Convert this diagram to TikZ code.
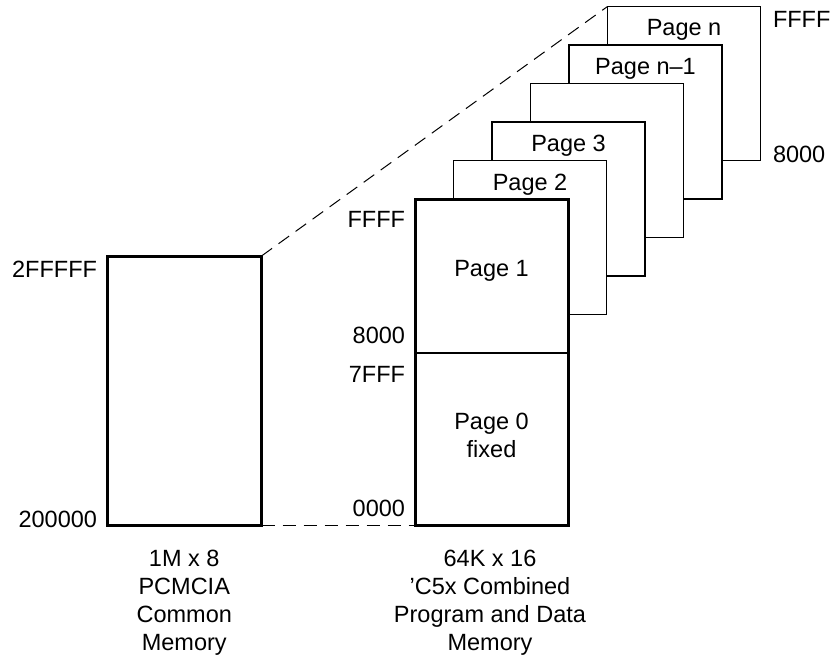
\documentclass[tikz,border=0pt]{standalone}
\usepackage{fontspec}
\setmainfont{Liberation Sans}
\usetikzlibrary{calc}
\begin{document}
\begin{tikzpicture}[x=1pt,y=-1pt,
  lbl/.style={font=\fontsize{23.5}{28}\selectfont, inner sep=0pt, outer sep=0pt},
  membox/.style={draw, line width=3pt, fill=white, inner sep=0pt, outer sep=0pt, rectangle},
  pagebox/.style={draw, line width=1.2pt, fill=white, inner sep=0pt, outer sep=0pt,
    minimum width=153pt, minimum height=154pt},
  divider/.style={line width=1.2pt},
  link/.style={line width=1pt, dash pattern=on 13pt off 8pt}]
\useasboundingbox (0,0) rectangle (834,658);

% stacked upper pages, drawn from the back to the front
\node[pagebox] (pn)    at (684,   83.5) {};
\node[pagebox] (pnm)   at (645.5, 122)  {};
\node[pagebox] (pdots) at (607,   160.5) {};
\node[pagebox] (pthree) at (568.5, 199) {};
\node[pagebox] (ptwo)  at (530,   237.5) {};

\node[lbl, anchor=base] (tn)     at ($(pn.north)+(0,29.5)$) {Page n};
\node[lbl, anchor=base] (tnm)    at ($(pnm.north)+(0,29.5)$) {Page n--1};
\node[lbl, anchor=base] (tthree) at ($(pthree.north)+(0,29.5)$) {Page 3};
\node[lbl, anchor=base] (ttwo)   at ($(ptwo.north)+(0,29.5)$) {Page 2};

% 'C5x combined memory (pages 0 and 1)
\node[membox, minimum width=153pt, minimum height=326pt] (main) at (491.5,362) {};
\coordinate (split) at (491.5,353);
\draw[divider] (split -| main.west) -- (split -| main.east);
\node[lbl, anchor=base] (tone) at (491.5,276) {Page 1};
\node[lbl, anchor=north, align=center] (tzero) at (491.5,413.5) {Page 0\\fixed};

% PCMCIA common memory
\node[membox, minimum width=154.5pt, minimum height=269pt] (pcm) at (184.25,390.5) {};

% projection lines
\draw[link] (pcm.north east) -- (pn.north west);
\draw[link] (pcm.south east) -- (main.south west);

% addresses
\node[lbl, anchor=base east] (a1) at (97,277) {2FFFFF};
\node[lbl, anchor=base east] (a2) at (97,527) {200000};
\node[lbl, anchor=base east] (a3) at (405,227) {FFFF};
\node[lbl, anchor=base east] (a4) at (405,343) {8000};
\node[lbl, anchor=base east] (a5) at (405,382) {7FFF};
\node[lbl, anchor=base east] (a6) at (405,516) {0000};
\node[lbl, anchor=base west] (a7) at (773,28) {FFFF};
\node[lbl, anchor=base west] (a8) at (773,162) {8000};

% captions
\node[lbl, anchor=north, align=center] (cap1) at (184.25,550.2)
  {1M x 8\\PCMCIA\\Common\\Memory};
\node[lbl, anchor=north, align=center] (cap2) at (490,550.2)
  {64K x 16\\'C5x Combined\\Program and Data\\Memory};
\end{tikzpicture}
\end{document}
